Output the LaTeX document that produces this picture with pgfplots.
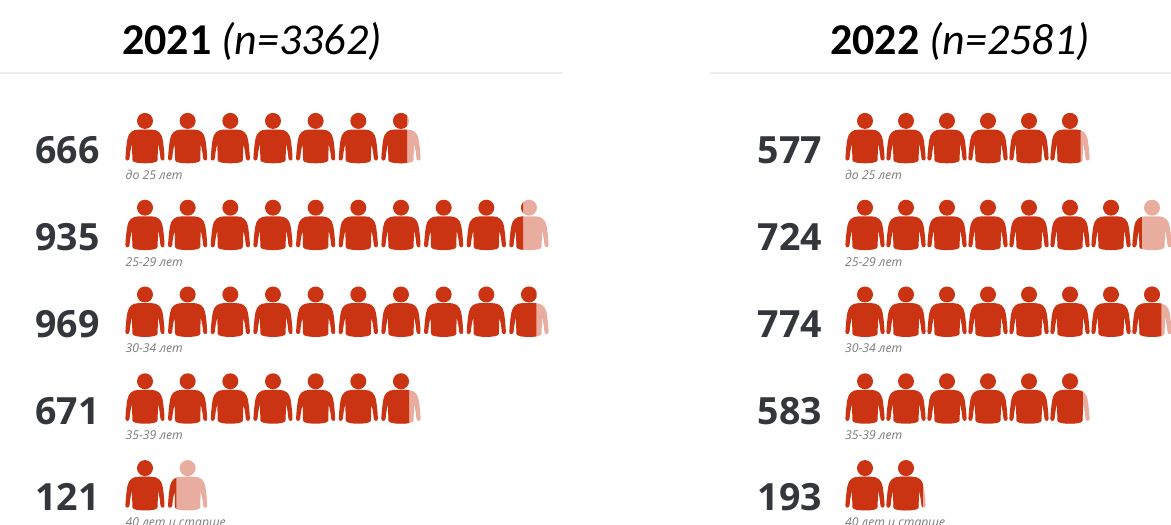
\documentclass[border=0pt]{standalone}
\usepackage{pgfplots}
\usepackage{pgfplotstable}
\usepackage{fontspec}
\pgfplotsset{compat=1.18}
\setmainfont{Open Sans}
\newfontfamily\titlefont{Carlito}
\definecolor{iconred}{HTML}{CB3412}
\definecolor{iconlight}{HTML}{E9AD9F}
\definecolor{numgray}{HTML}{33373B}
\definecolor{labgray}{HTML}{7A7A7A}
\definecolor{rulegray}{HTML}{EDEDED}

% right half + mirrored left half of the pictogram, 39 x 50 units
\newcommand\personpath{
  (0,17.2) circle[radius=8]
  (0,8.6) -- (6,8.6) .. controls (13,8.6) and (16.5,5) .. (17.6,-1)
  .. controls (18.5,-6) and (19.2,-13) .. (19.6,-20)
  .. controls (19.8,-23.2) and (15.8,-23.2) .. (15.4,-20)
  .. controls (15.1,-15) and (14.2,-10) .. (13,-6)
  -- (12.6,-22) .. controls (12.6,-24.5) and (6,-25.2) .. (0,-25.2)
  .. controls (-6,-25.2) and (-12.6,-24.5) .. (-12.6,-22)
  -- (-13,-6) .. controls (-14.2,-10) and (-15.1,-15) .. (-15.4,-20)
  .. controls (-15.8,-23.2) and (-19.8,-23.2) .. (-19.6,-20)
  .. controls (-19.2,-13) and (-18.5,-6) .. (-17.6,-1)
  .. controls (-16.5,5) and (-13,8.6) .. (-6,8.6) -- cycle
}
\pgfdeclareplotmark{person}{%
  \begin{scope}[x=1pt,y=1pt]
    \pgfmathsetmacro\cutx{-19.5+39*\ff}
    \ifdim\ff pt<1pt \path[draw=none,fill=iconlight] \personpath; \fi
    \begin{scope}
      \path[draw=none,clip] (-26,-30) rectangle (\cutx,30);
      \path[draw=none,fill=iconred] \personpath;
    \end{scope}
  \end{scope}
}
\pgfplotsset{panel/.style={
  scale only axis, hide axis, clip=false, anchor=south west,
  y dir=reverse, ymin=-1, ymax=4.4, height=468.7pt,
  only marks, 
}}
\newcommand\numfont{\fontsize{37.5}{38}\selectfont\bfseries\color{numgray}}
\newcommand\labfont{\fontsize{12.2}{12}\selectfont\itshape\color{labgray}}

\begin{document}
\begin{tikzpicture}[x=1pt,y=1pt]
\useasboundingbox (0,0) rectangle (1171,525);
\clip (0,0) rectangle (1171,525);

\node[anchor=base,inner sep=0pt,font=\titlefont\fontsize{44}{44}\selectfont] at (252,470) {\textbf{2021} \textit{(n=3362)}};
\node[anchor=base,inner sep=0pt,font=\titlefont\fontsize{44}{44}\selectfont] at (960,470) {\textbf{2022} \textit{(n=2581)}};
\draw[rulegray,line width=1.2pt] (0,452) -- (563,452);
\draw[rulegray,line width=1.2pt] (710,452) -- (1171,452);

\begin{axis}[panel, at={(102.33pt,5pt)}, width=469.33pt, xmin=-1, xmax=10]
\addplot+[scatter, mark=person, visualization depends on={\thisrow{f}\as\ff}] table[x=i,y=r]{
i r f
0 0 1
1 0 1
2 0 1
3 0 1
4 0 1
5 0 1
6 0 0.66
0 1 1
1 1 1
2 1 1
3 1 1
4 1 1
5 1 1
6 1 1
7 1 1
8 1 1
9 1 0.35
0 2 1
1 2 1
2 2 1
3 2 1
4 2 1
5 2 1
6 2 1
7 2 1
8 2 1
9 2 0.69
0 3 1
1 3 1
2 3 1
3 3 1
4 3 1
5 3 1
6 3 0.71
0 4 1
1 4 0.21
};
\foreach \r/\v/\l in {0/666/до 25 лет,1/935/25-29 лет,2/969/30-34 лет,3/671/35-39 лет,4/121/40 лет и старше}{
  \edef\tmp{\noexpand\node[anchor=base,inner sep=0pt,font=\noexpand\numfont] at (axis cs:-1.816,\r+0.295) {\v};
  \noexpand\node[anchor=base west,inner sep=0pt,font=\noexpand\labfont] at (axis cs:-0.457,\r+0.475) {\l};}
  \tmp
}
\end{axis}

\begin{axis}[panel, at={(824pt,5pt)}, width=451pt, xmin=-1, xmax=10,
  every mark/.append style={xscale=0.96}]
\addplot+[scatter, mark=person, visualization depends on={\thisrow{f}\as\ff}] table[x=i,y=r]{
i r f
0 0 1
1 0 1
2 0 1
3 0 1
4 0 1
5 0 0.77
0 1 1
1 1 1
2 1 1
3 1 1
4 1 1
5 1 1
6 1 1
7 1 0.24
0 2 1
1 2 1
2 2 1
3 2 1
4 2 1
5 2 1
6 2 1
7 2 0.74
0 3 1
1 3 1
2 3 1
3 3 1
4 3 1
5 3 0.83
0 4 1
1 4 0.93
};
\foreach \r/\v/\l in {0/577/до 25 лет,1/724/25-29 лет,2/774/30-34 лет,3/583/35-39 лет,4/193/40 лет и старше}{
  \edef\tmp{\noexpand\node[anchor=base,inner sep=0pt,font=\noexpand\numfont] at (axis cs:-1.83,\r+0.295) {\v};
  \noexpand\node[anchor=base west,inner sep=0pt,font=\noexpand\labfont] at (axis cs:-0.49,\r+0.475) {\l};}
  \tmp
}
\end{axis}
\end{tikzpicture}
\end{document}
